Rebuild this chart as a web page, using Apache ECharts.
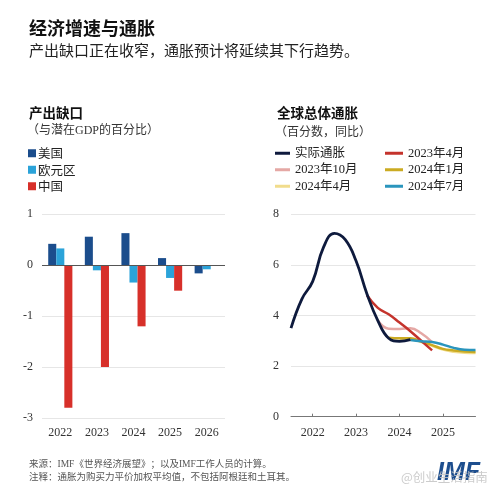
<!DOCTYPE html>
<html><head><meta charset="utf-8">
<script src="https://cdn.jsdelivr.net/npm/echarts@6/dist/echarts.min.js"></script>
<style>html,body{margin:0;padding:0;background:#fff}#c{width:500px;height:500px}</style>
</head><body><div id="c"></div>
<script>
// ---- Output gap (left) ----
const gapYears = ['2022','2023','2024','2025','2026'];
const gapUS = [0.42, 0.56, 0.63, 0.14, -0.16];
const gapEuro = [0.33, -0.10, -0.34, -0.25, -0.08];
const gapChina = [-2.8, -2.0, -1.2, -0.5, null];
const gapTicks = [-3, -2, -1, 0, 1];

// ---- Global headline inflation (right) ----
const quarters = [2021.5, 2021.75, 2022, 2022.25, 2022.5, 2022.75, 2023, 2023.25, 2023.5, 2023.75, 2024, 2024.25, 2024.5, 2024.75, 2025, 2025.25, 2025.5, 2025.75];
const actual   = [3.5, 4.65, 5.35, 6.7, 7.25, 7.0, 6.15, 4.85, 3.8, 3.1, 2.98, 3.05, null, null, null, null, null, null];
const fc2023Apr = [null, null, null, null, null, null, null, 4.8, 4.3, 4.05, 3.72, 3.38, 3.0, 2.62, null, null, null, null];
const fc2023Oct = [null, null, null, null, null, null, null, null, 3.8, 3.48, 3.47, 3.5, 3.3, 2.95, null, null, null, null];
const fc2024Jan = [null, null, null, null, null, null, null, null, null, 3.12, 3.1, 3.1, 2.97, 2.83, 2.68, 2.62, 2.58, 2.56];
const fc2024Apr = [null, null, null, null, null, null, null, null, null, null, 3.05, 3.05, 2.95, 2.8, 2.65, 2.57, 2.53, 2.52];
const fc2024Jul = [null, null, null, null, null, null, null, null, null, null, null, 3.03, 2.98, 2.95, 2.85, 2.72, 2.65, 2.64];
const yearTicks = [2022, 2023, 2024, 2025];

const CJK = '"Noto Sans CJK SC", "Noto Sans", sans-serif';
const MIX = '"Liberation Serif", "Noto Sans CJK SC", serif';

function pairs(arr){ const out=[]; arr.forEach((v,i)=>{ if(v!==null) out.push([quarters[i], v]); }); return out; }

const chart = echarts.init(document.getElementById('c'), null, {renderer:'canvas'});

function lineSeries(name, arr, color, width, z){
  return {name, type:'line', xAxisIndex:1, yAxisIndex:1, data:pairs(arr), smooth:0.45,
    showSymbol:false, symbol:'none', lineStyle:{color, width}, itemStyle:{color}, z};
}

chart.setOption({
  animation:false,
  textStyle:{fontFamily:CJK},
  title:[
    {text:'经济增速与通胀', left:24, top:14, textStyle:{fontSize:18, fontWeight:'bold', color:'#111', fontFamily:CJK}},
    {text:'产出缺口正在收窄，通胀预计将延续其下行趋势。', left:24, top:38, textStyle:{fontSize:15, fontWeight:'normal', color:'#222', fontFamily:CJK}},
    {text:'产出缺口', left:24, top:101, textStyle:{fontSize:13.5, fontWeight:'bold', color:'#111', fontFamily:CJK}},
    {text:'（与潜在GDP的百分比）', left:22, top:120, textStyle:{fontSize:12, fontWeight:'normal', color:'#333', fontFamily:MIX}},
    {text:'全球总体通胀', left:272, top:101, textStyle:{fontSize:13.5, fontWeight:'bold', color:'#111', fontFamily:CJK}},
    {text:'（百分数，同比）', left:270, top:120, textStyle:{fontSize:12, fontWeight:'normal', color:'#333', fontFamily:CJK}},
    {text:'来源：IMF《世界经济展望》；以及IMF工作人员的计算。', left:24, top:455, textStyle:{fontSize:9.5, fontWeight:'normal', color:'#555', fontFamily:MIX}},
    {text:'注释：通胀为购买力平价加权平均值，不包括阿根廷和土耳其。', left:24, top:467, textStyle:{fontSize:9.5, fontWeight:'normal', color:'#555', fontFamily:CJK}},
    {text:'IMF', left:432, top:456, textStyle:{fontSize:25, fontWeight:'bold', fontStyle:'italic', color:'#1d4e8e', fontFamily:'"Liberation Sans", Arial, sans-serif'}},
    {text:'@创业生活指南', left:396, top:466, textStyle:{fontSize:12.5, fontWeight:'normal', color:'rgba(195,195,195,0.85)', fontFamily:CJK}}
  ],
  legend:[
    {data:['美国','欧元区','中国'], orient:'vertical', left:23, top:142, icon:'rect', itemWidth:8, itemHeight:8, itemGap:4,
      textStyle:{fontSize:12.5, color:'#222', fontFamily:CJK, padding:[0,0,0,-3]}},
    {data:['实际通胀','2023年10月','2024年4月'], orient:'vertical', left:270, top:142, icon:'rect', itemWidth:15, itemHeight:3, itemGap:4,
      textStyle:{fontSize:12.5, color:'#222', fontFamily:MIX}},
    {data:['2023年4月','2024年1月','2024年7月'], orient:'vertical', left:380, top:142, icon:'rect', itemWidth:18, itemHeight:3, itemGap:4,
      textStyle:{fontSize:12.5, color:'#222', fontFamily:MIX}}
  ],
  grid:[
    {left:42, top:214.3, width:183, height:203.7},
    {left:291, top:214.3, width:184.5, height:202.4}
  ],
  xAxis:[
    {type:'category', gridIndex:0, data:gapYears, axisLine:{show:false, onZero:false}, axisTick:{show:false},
      axisLabel:{fontFamily:'"Liberation Serif", serif', fontSize:12, color:'#333', margin:9}},
    {type:'value', gridIndex:1, min:2021.5, max:2025.75, splitLine:{show:false},
      axisLine:{show:true, onZero:false, lineStyle:{color:'#777', width:1}},
      axisTick:{show:true, customValues:yearTicks, length:3, inside:true, lineStyle:{color:'#777'}},
      axisLabel:{customValues:yearTicks, formatter:v=>String(Math.round(v)), fontFamily:'"Liberation Serif", serif', fontSize:12, color:'#333', margin:10}}
  ],
  yAxis:[
    {type:'value', gridIndex:0, min:-3, max:1, interval:1, axisLine:{show:false}, axisTick:{show:false},
      splitLine:{lineStyle:{color:'#e6e6e6'}},
      axisLabel:{fontFamily:'"Liberation Serif", serif', fontSize:12, color:'#333', margin:9}},
    {type:'value', gridIndex:1, min:0, max:8, interval:2, axisLine:{show:false}, axisTick:{show:false},
      splitLine:{lineStyle:{color:'#e6e6e6'}},
      axisLabel:{fontFamily:'"Liberation Serif", serif', fontSize:12, color:'#333', margin:12}}
  ],
  series:[
    {name:'美国', type:'bar', xAxisIndex:0, yAxisIndex:0, data:gapUS, itemStyle:{color:'#1b4d8c'}, barGap:'0%', barCategoryGap:'34%',
      markLine:{silent:true, symbol:'none', label:{show:false}, lineStyle:{color:'#555', width:1, type:'solid'}, data:[{yAxis:0}], z:10}},
    {name:'欧元区', type:'bar', xAxisIndex:0, yAxisIndex:0, data:gapEuro, itemStyle:{color:'#2ba3d9'}, barGap:'0%', barCategoryGap:'34%'},
    {name:'中国', type:'bar', xAxisIndex:0, yAxisIndex:0, data:gapChina, itemStyle:{color:'#d7302a'}, barGap:'0%', barCategoryGap:'34%'},
    lineSeries('2024年4月', fc2024Apr, '#f1dc8c', 2.5, 2),
    lineSeries('2024年1月', fc2024Jan, '#cbab22', 2.5, 3),
    lineSeries('2023年10月', fc2023Oct, '#e5a8a5', 2.5, 3),
    lineSeries('2023年4月', fc2023Apr, '#c4332c', 2.5, 4),
    lineSeries('2024年7月', fc2024Jul, '#2a95bd', 2.5, 5),
    lineSeries('实际通胀', actual, '#0e1a3d', 2.8, 6)
  ]
});
</script></body></html>
